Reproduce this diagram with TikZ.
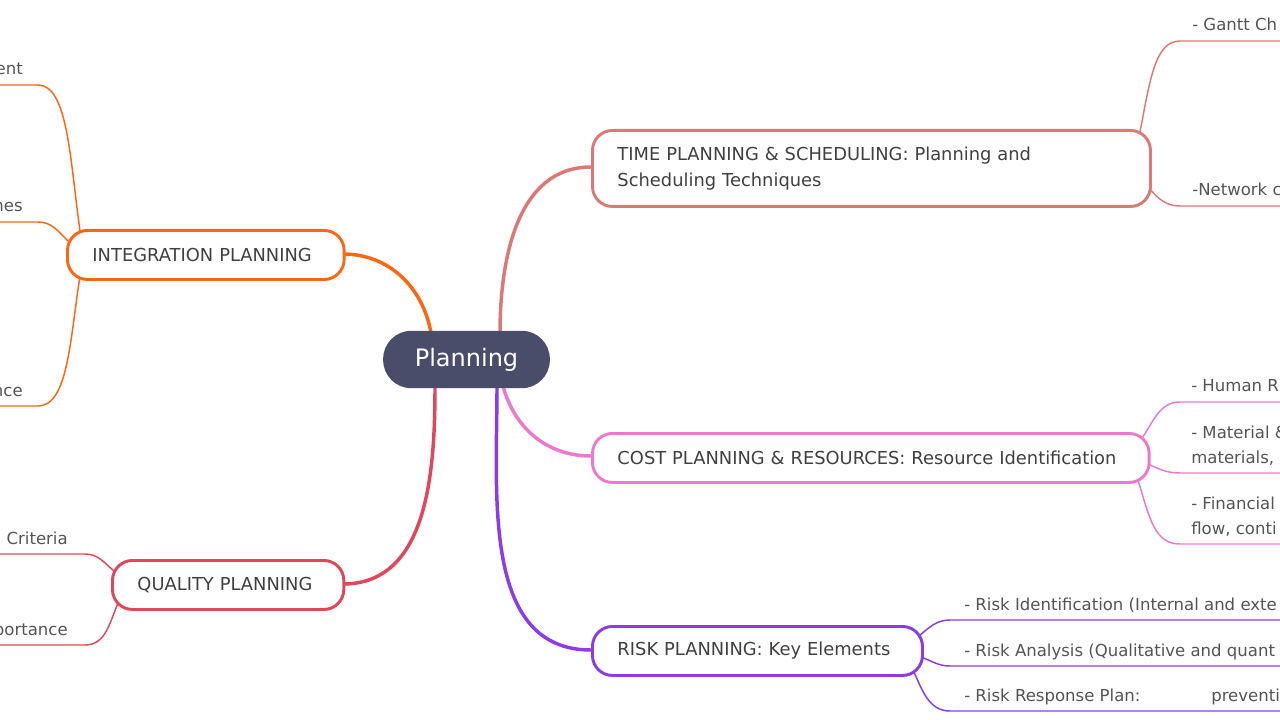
\documentclass[tikz,border=0pt]{standalone}
\usepackage{fontspec}
\setmainfont{DejaVu Sans}
\begin{document}
\begin{tikzpicture}[x=0.75pt,y=-0.75pt,
  box/.style={line width=2.2pt,fill=white,rounded corners=15pt,minimum height=36.75pt,text=black!75,font=\fontsize{13.4pt}{20pt}\selectfont,align=left,inner xsep=18.75pt,inner ysep=0pt,anchor=north west},
  leaf/.style={text=black!67,font=\fontsize{12.4pt}{18.75pt}\selectfont,inner sep=0pt,align=left,anchor=base west},
  lf/.style={line width=1.1pt},
  br/.style={line width=2.6pt}]
\useasboundingbox (0,0) rectangle (1280,720);
\clip (0,0) rectangle (1280,720);
\definecolor{ct}{HTML}{DE7877}
\definecolor{cc}{HTML}{EC79CE}
\definecolor{cr}{HTML}{8B3BE8}
\definecolor{ci}{HTML}{FF6611}
\definecolor{cq}{HTML}{E2465A}
\definecolor{cp}{HTML}{4A4D6A}
% branches from center
\draw[br,ct] (500,333) to[out=90,in=180] (591,167);
\draw[br,cc] (503,386) to[out=-75,in=180] (591,456);
\draw[br,cr] (497,386) to[out=-90,in=180] (591,650);
\draw[br,ci] (431,333) to[out=100,in=0] (343,254);
\draw[br,cq] (435,386) to[out=-90,in=0] (343,584);
% leaves: time
\coordinate (g1) at (1180,41); \coordinate (g2) at (1180,206);
\draw[lf,ct] (1140,132) .. controls (1150,80) and (1155,41) .. (g1) -- (1280,41);
\draw[lf,ct] (1149,188) to[out=-50,in=180] (g2) -- (1280,206);
\node[leaf] (tg) at (1192,31) {- Gantt Ch};
\node[leaf] (tn) at (1192,196) {-Network c};
% cost
\draw[lf,cc] (1142,438) to[out=55,in=180] (1180,402) -- (1280,402);
\draw[lf,cc] (1148,464) to[out=-25,in=180] (1180,473) -- (1280,473);
\draw[lf,cc] (1138,480) .. controls (1150,520) and (1155,544) .. (1180,544) -- (1280,544);
\node[leaf] (c1) at (1191,391) {- Human R};
\node[leaf] (c2) at (1191,463) {- Material \&\\materials,};
\node[leaf] (c3) at (1191,534) {- Financial\\flow, conti};
% risk
\draw[lf,cr] (919,636) to[out=40,in=180] (950,620) -- (1280,620);
\draw[lf,cr] (921,657) to[out=-20,in=180] (950,666) -- (1280,666);
\draw[lf,cr] (913,670) to[out=-65,in=180] (950,711) -- (1280,711);
\node[leaf] (r1) at (964,610) {- Risk Identification (Internal and exte};
\node[leaf] (r2) at (964,656) {- Risk Analysis (Qualitative and quant};
\node[leaf] (r3) at (964,701) {- Risk Response Plan:};
\node[leaf] (r3b) at (1211,701) {preventi};
% integration
\draw[lf,ci] (80,231) .. controls (70,160) and (68,85) .. (38,85) -- (0,85);
\draw[lf,ci] (68,241) to[out=135,in=0] (38,222) -- (0,222);
\draw[lf,ci] (80,276) .. controls (70,340) and (68,406) .. (38,406) -- (0,406);
\node[leaf,anchor=base east] (i1) at (23,75) {ent};
\node[leaf,anchor=base east] (i2) at (23,212) {nes};
\node[leaf,anchor=base east] (i3) at (23,396) {nce};
% quality
\draw[lf,cq] (114,571) to[out=140,in=0] (85,554) -- (0,554);
\draw[lf,cq] (119,601) to[out=-115,in=0] (85,645) -- (0,645);
\node[leaf,anchor=base east] (q1) at (68,544) {Criteria};
\node[leaf,anchor=base east] (q2) at (68,635) {portance};
% boxes
\node[box,draw=ct,minimum height=57pt,text width=381pt] (time) at (591,129) {TIME PLANNING \& SCHEDULING: Planning and\\Scheduling Techniques};
\node[box,draw=cc,text width=380pt] (cost) at (591,432) {COST PLANNING \& RESOURCES: Resource Identification};
\node[box,draw=cr,text width=210pt] (risk) at (591,625) {RISK PLANNING: Key Elements};
\node[box,draw=ci,text width=170pt] (integ) at (66,229) {INTEGRATION PLANNING};
\node[box,draw=cq,text width=136pt] (qual) at (111,559) {QUALITY PLANNING};
\node[fill=cp,rounded corners=21pt,minimum width=125pt,minimum height=43pt,text=white,font=\fontsize{18pt}{20pt}\selectfont,inner sep=0pt] (plan) at (466.5,359.5) {Planning};
\end{tikzpicture}
\end{document}
